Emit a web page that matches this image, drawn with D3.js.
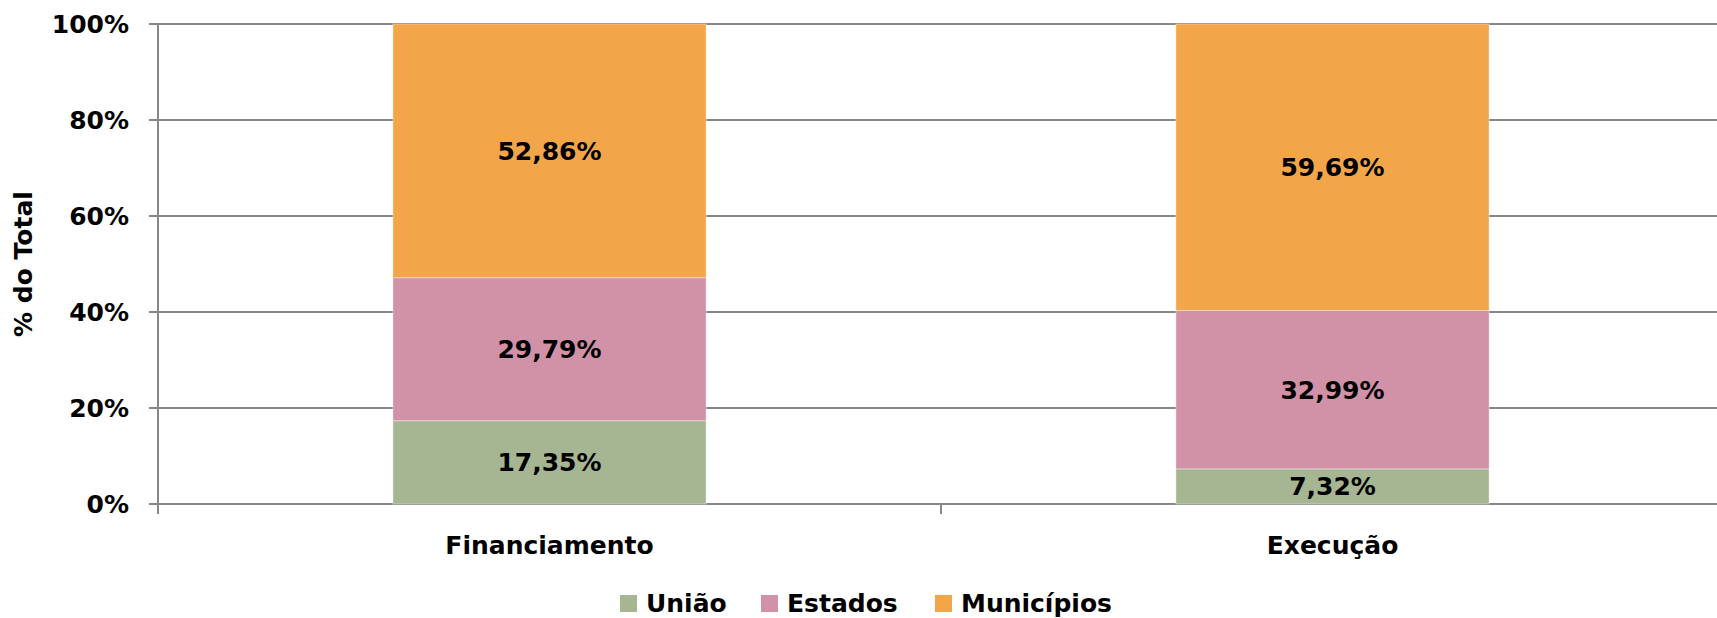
<!DOCTYPE html>
<html>
<head>
<meta charset="utf-8">
<script src="https://cdn.jsdelivr.net/npm/d3@7"></script>
<style>
  body { margin: 0; background: #fff; }
  text { font-family: "DejaVu Sans", Verdana, sans-serif; font-weight: bold; fill: #000; }
</style>
</head>
<body>
<div id="chart"></div>
<script>
// data
var categories = ["Financiamento", "Execução"];
var seriesNames = ["União", "Estados", "Municípios"];
var uniao = [17.35, 7.32];
var estados = [29.79, 32.99];
var municipios = [52.86, 59.69];
var yTicks = [0, 20, 40, 60, 80, 100];
var colors = ["#a6b592", "#d191a7", "#f2a549"];

function createStackedChart(){

  var W = 1717, H = 618;
  var margin = {top: 24, left: 158, bottom: 504, right: 1724};

  var svg = d3.select("#chart").append("svg")
      .attr("width", W)
      .attr("height", H);

  // build rows for the stack
  var rows = categories.map(function(c, i) {
    return {cat: c, "União": uniao[i], "Estados": estados[i], "Municípios": municipios[i]};
  });
  var stacked = d3.stack().keys(seriesNames)(rows);

  var x = d3.scaleBand()
      .domain(categories)
      .range([margin.left, margin.right])
      .paddingInner(0.6)
      .paddingOuter(0.3);

  var y = d3.scaleLinear().domain([0, 100]).range([margin.bottom, margin.top]);

  var color = d3.scaleOrdinal().domain(seriesNames).range(colors);

  // gridlines
  svg.append("g")
      .selectAll("line")
      .data(yTicks)
      .enter().append("line")
      .attr("x1", margin.left - 9)
      .attr("x2", W)
      .attr("y1", function(d) { return y(d); })
      .attr("y2", function(d) { return y(d); })
      .attr("stroke", "#878787")
      .attr("stroke-width", 2);

  // y labels
  svg.append("g")
      .selectAll("text")
      .data(yTicks)
      .enter().append("text")
      .attr("x", 129)
      .attr("y", function(d) { return y(d); })
      .attr("dy", "0.36em")
      .style("text-anchor", "end")
      .style("font-size", "25px")
      .text(function(d) { return d + "%"; });

  // bars
  var layer = svg.append("g")
      .selectAll("g")
      .data(stacked)
      .enter().append("g")
      .attr("fill", function(d) { return color(d.key); });

  layer.selectAll("rect")
      .data(function(d) { return d; })
      .enter().append("rect")
      .attr("x", function(d) { return x(d.data.cat); })
      .attr("width", x.bandwidth())
      .attr("y", function(d) { return y(d[1]); })
      .attr("height", function(d) { return y(d[0]) - y(d[1]); })
      .attr("stroke", "rgba(255,255,255,0.4)")
      .attr("stroke-width", 1);

  // value labels
  layer.selectAll("text")
      .data(function(d) { return d; })
      .enter().append("text")
      .attr("x", function(d) { return x(d.data.cat) + x.bandwidth() / 2; })
      .attr("y", function(d) { return (y(d[0]) + y(d[1])) / 2; })
      .attr("dy", "0.36em")
      .style("text-anchor", "middle")
      .style("font-size", "25px")
      .text(function(d) { return d3.format(".2f")(d[1] - d[0]).replace(".", ",") + "%"; });

  // axes lines
  svg.append("line")
      .attr("x1", margin.left).attr("x2", margin.left)
      .attr("y1", margin.top).attr("y2", margin.bottom + 10)
      .attr("stroke", "#878787").attr("stroke-width", 2);

  var step = x.step();
  var bottomTicks = [margin.left, margin.left + step];
  svg.append("g")
      .selectAll("line")
      .data(bottomTicks)
      .enter().append("line")
      .attr("x1", function(d) { return d; })
      .attr("x2", function(d) { return d; })
      .attr("y1", margin.bottom)
      .attr("y2", margin.bottom + 10)
      .attr("stroke", "#878787").attr("stroke-width", 2);

  // category labels
  svg.append("g")
      .selectAll("text")
      .data(categories)
      .enter().append("text")
      .attr("x", function(d) { return x(d) + x.bandwidth() / 2; })
      .attr("y", 554)
      .style("text-anchor", "middle")
      .style("font-size", "25px")
      .text(function(d) { return d; });

  // y axis title
  svg.append("text")
      .attr("transform", "translate(32," + ((margin.top + margin.bottom) / 2) + ") rotate(-90)")
      .style("text-anchor", "middle")
      .style("font-size", "25px")
      .text("% do Total");

  // legend
  var legendX = [620, 761, 935];
  var legend = svg.append("g")
      .selectAll("g")
      .data(seriesNames)
      .enter().append("g")
      .attr("transform", function(d, i) { return "translate(" + legendX[i] + ",595)"; });

  legend.append("rect")
      .attr("width", 17)
      .attr("height", 17)
      .attr("fill", function(d) { return color(d); });

  legend.append("text")
      .attr("x", 26)
      .attr("y", 8)
      .attr("dy", "0.36em")
      .style("font-size", "25px")
      .text(function(d) { return d; });
}

createStackedChart();
</script>
</body>
</html>
